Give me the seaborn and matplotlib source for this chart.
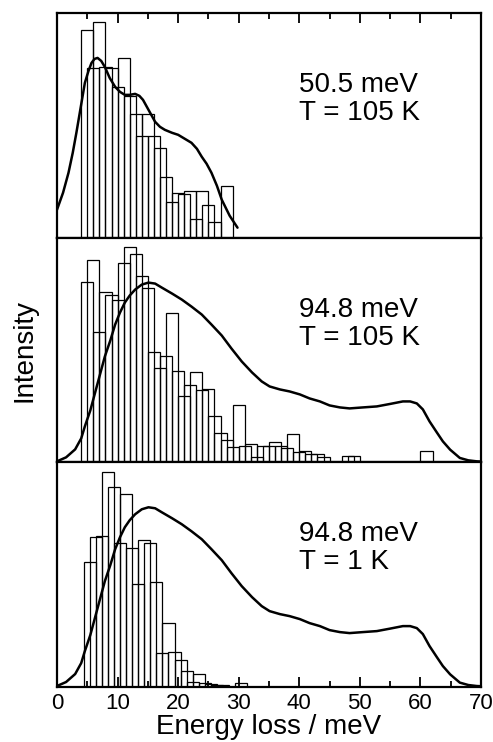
import numpy as np
import pandas as pd
import matplotlib
matplotlib.use("Agg")
import matplotlib.pyplot as plt
import seaborn as sns
from matplotlib.ticker import MultipleLocator

# ---------------- data ----------------
# Top panel: 50.5 meV, T = 105 K  (bars 2 meV wide, one starting every 1 meV)
top_left = list(range(4, 28))
top_heights = [208, 170, 216, 171, 170, 151, 180, 142, 124, 102, 124, 102,
               90, 61, 36, 45, 44, 47, 19, 47, 33, 16, 0, 52]
top_curve_x = [0, 1.0, 1.9, 2.6, 3.2, 3.9, 4.6, 5.2, 5.7, 6.2, 6.7, 7.3,
               7.9, 8.7, 9.6, 10.4, 11.2, 12.0, 12.9, 13.6, 14.2, 15.2,
               16.2, 17.0, 17.8, 19.0, 20.0, 21.1, 22.2, 23.1, 23.9, 24.7,
               25.5, 26.4, 27.2, 28.5, 29.8]
top_curve_y = [28, 45, 65, 85, 105, 130, 155, 167, 175, 179, 180, 177,
               171, 160, 151, 146, 143, 143, 144, 142, 138, 127,
               116, 111, 108, 105, 103, 99, 95, 89, 81, 74,
               65, 52, 38, 22, 10]

# Middle panel: 94.8 meV, T = 105 K
mid_left = list(range(4, 61))
mid_heights = [181, 203, 131, 171, 168, 163, 200, 216, 209, 187, 175, 110,
               94, 106, 150, 91, 66, 77, 90, 72, 73, 46, 29, 22, 15, 57,
               16, 18, 5, 16, 16, 20, 16, 14, 28, 10, 11, 8, 8, 5, 0, 0, 0,
               6, 6, 0, 0, 0, 0, 0, 0, 0, 0, 0, 0, 0, 11]

# Bottom panel: 94.8 meV, T = 1 K
bot_left = [4.4, 5.4, 6.4, 7.4, 8.4, 9.4, 10.4, 11.4, 12.4, 13.4, 14.4, 15.4,
            16.4, 17.4, 18.4, 19.4, 20.4, 21.4, 22.4, 23.4, 24.4, 25.4,
            26.4, 27.4, 28.4, 29.4]
bot_heights = [125, 150, 151, 215, 200, 144, 193, 139, 103, 147, 144, 105,
               34, 64, 35, 27, 16, 5, 13.5, 4, 3, 2, 2, 0, 0, 4]

# Smooth curve for 94.8 meV (middle and bottom panels)
curve_x = [0, 1.5, 3.0, 4.0, 4.6, 5.5, 6.3, 7.1, 7.9, 8.8, 9.6, 10.4, 11.2,
           12.0, 12.9, 14.0, 15.1, 16.2, 17.3, 19.0, 20.6, 22.2, 23.9, 25.5,
           27.2, 28.8, 30.5, 32.2, 33.8, 35.1, 36.8, 38.4, 40.1, 41.7, 43.4,
           45.0, 46.7, 48.3, 50.5, 52.8, 55.0, 57.1, 58.3, 59.4, 60.4, 61.5,
           62.7, 63.7, 64.9, 66.5, 67.9, 69.3, 70]
curve_y = [1, 5, 13, 24, 36, 52, 70, 88, 106, 122, 138, 150, 160,
           167, 173, 178, 180, 179, 175, 169, 163, 156, 148, 138,
           127, 114, 101, 90, 81, 76, 73, 71, 68, 64, 61,
           57, 55, 54, 55, 56, 58.5, 61, 61, 59, 53, 41,
           30, 21, 12.7, 4.4, 2, 1, 0.8]

labels_line1 = ["50.5 meV", "94.8 meV", "94.8 meV"]
labels_line2 = ["T = 105 K", "T = 105 K", "T = 1 K"]
x_ticklabels = ["0", "10", "20", "30", "40", "50", "60", "70"]

# ---------------- style ----------------
sns.set_style("ticks")
plt.rcParams["font.family"] = ["Liberation Sans", "DejaVu Sans"]
plt.rcParams["text.color"] = "black"
plt.rcParams["axes.labelcolor"] = "black"
plt.rcParams["xtick.color"] = "black"
plt.rcParams["axes.edgecolor"] = "black"

fig, axes = plt.subplots(3, 1, sharex=True, figsize=(4.93, 7.42), dpi=100)
fig.subplots_adjust(left=0.1156, right=0.9757, top=0.9825, bottom=0.0741,
                    hspace=0)


def draw_bars(ax, lefts, heights):
    lefts = np.asarray(lefts, float)
    heights = np.asarray(heights, float)
    for parity in (0, 1):
        L = lefts[parity::2]
        H = heights[parity::2]
        df = pd.DataFrame({"x": L + 1.0, "w": H})
        sns.histplot(data=df, x="x", weights="w", binwidth=2,
                     binrange=(L.min(), L.max() + 2), fill=False,
                     element="bars", color="black", linewidth=0.9, ax=ax)


panels = [
    (top_left, top_heights, top_curve_x, top_curve_y),
    (mid_left, mid_heights, curve_x, curve_y),
    (bot_left, bot_heights, curve_x, curve_y),
]

for i, (ax, (bl, bh, cx, cy)) in enumerate(zip(axes, panels)):
    draw_bars(ax, bl, bh)
    sns.lineplot(x=cx, y=cy, color="black", linewidth=1.8, ax=ax)
    ax.set_xlim(0, 70)
    ax.set_ylim(0, 225)
    ax.set_yticks([])
    ax.set_ylabel("")
    ax.set_xlabel("")
    for sp in ax.spines.values():
        sp.set_visible(True)
        sp.set_linewidth(1.6)
        sp.set_color("black")
    ax.text(40, 0.68, labels_line1[i], transform=ax.get_xaxis_transform(),
            ha="left", va="center", fontsize=20, color="black")
    ax.text(40, 0.555, labels_line2[i], transform=ax.get_xaxis_transform(),
            ha="left", va="center", fontsize=20, color="black")

for ax in axes:
    ax.xaxis.set_major_locator(MultipleLocator(10))
    ax.xaxis.set_minor_locator(MultipleLocator(5))
    ax.tick_params(axis="x", which="both", bottom=False, top=False,
                   labelbottom=False, direction="in")

axes[0].tick_params(axis="x", which="major", top=True, length=7, width=1.3)
axes[0].tick_params(axis="x", which="minor", top=True, length=4.5, width=1.3)
axes[2].tick_params(axis="x", which="major", bottom=True, labelbottom=True,
                    length=7, width=1.3, labelsize=16, pad=4,
                    labelcolor="black")
axes[2].tick_params(axis="x", which="minor", bottom=True, length=4.5,
                    width=1.3)
axes[2].set_xticks(range(0, 71, 10))
axes[2].set_xticklabels(x_ticklabels)
axes[2].set_xlabel("Energy loss / meV", fontsize=20, labelpad=0,
                   color="black")

fig.text(25 / 493, 0.5283, "Intensity", rotation=90, ha="center",
         va="center", fontsize=20, color="black")

fig.savefig("out.png", dpi=100)
